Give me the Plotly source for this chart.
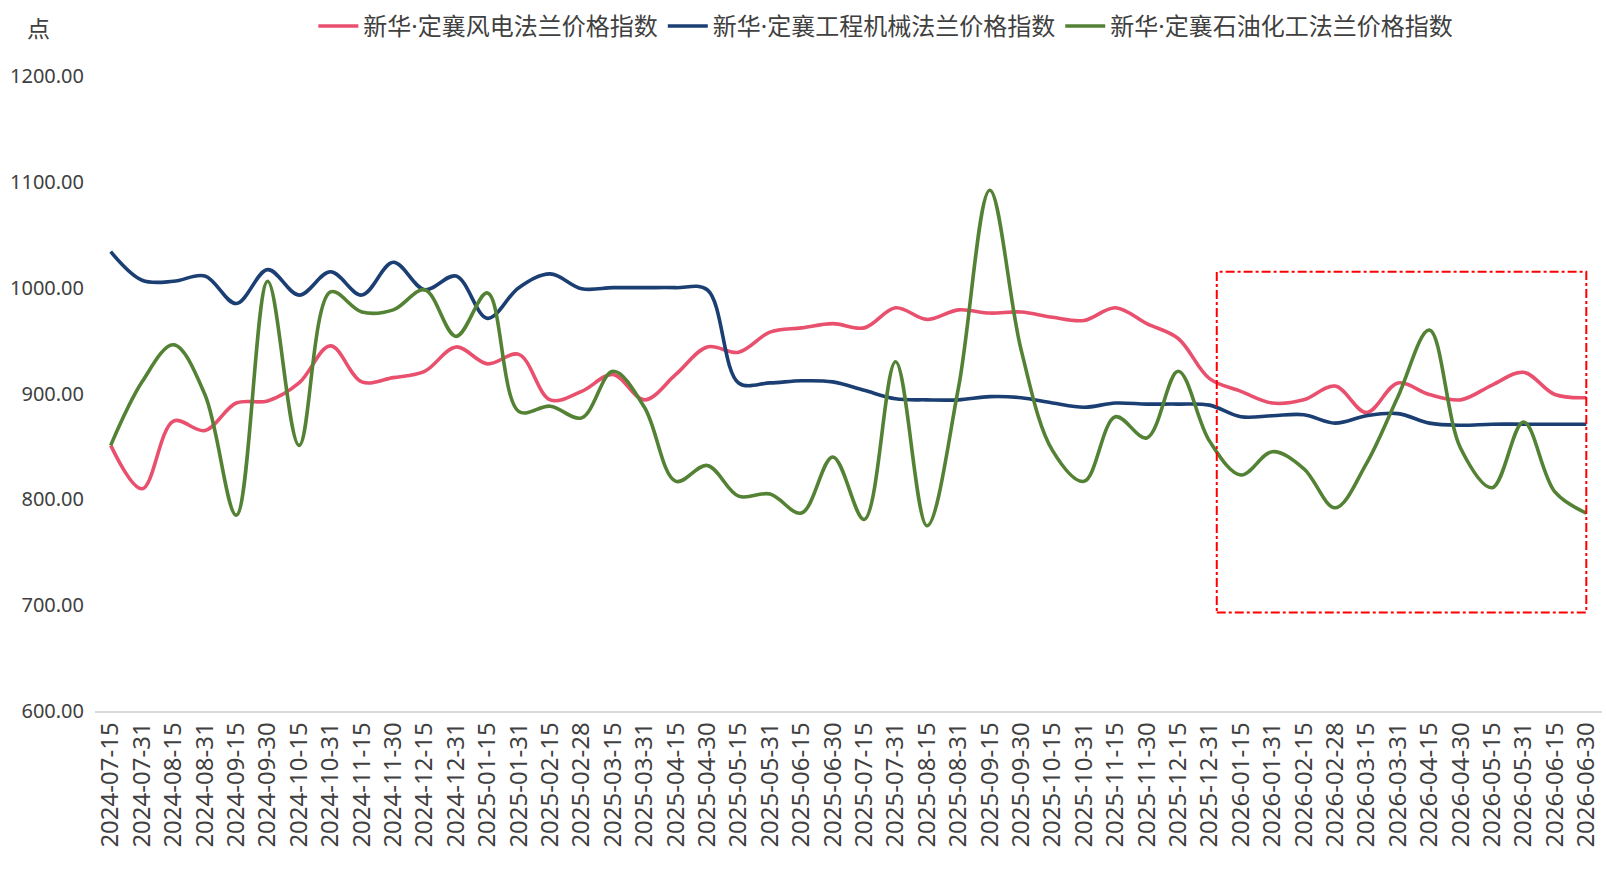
import plotly.graph_objects as go

dates = [
    "2024-07-15", "2024-07-31", "2024-08-15", "2024-08-31", "2024-09-15", "2024-09-30",
    "2024-10-15", "2024-10-31", "2024-11-15", "2024-11-30", "2024-12-15", "2024-12-31",
    "2025-01-15", "2025-01-31", "2025-02-15", "2025-02-28", "2025-03-15", "2025-03-31",
    "2025-04-15", "2025-04-30", "2025-05-15", "2025-05-31", "2025-06-15", "2025-06-30",
    "2025-07-15", "2025-07-31", "2025-08-15", "2025-08-31", "2025-09-15", "2025-09-30",
    "2025-10-15", "2025-10-31", "2025-11-15", "2025-11-30", "2025-12-15", "2025-12-31",
    "2026-01-15", "2026-01-31", "2026-02-15", "2026-02-28", "2026-03-15", "2026-03-31",
    "2026-04-15", "2026-04-30", "2026-05-15", "2026-05-31", "2026-06-15", "2026-06-30",
]

wind_power = [851, 810, 874, 865, 891, 893, 910, 945, 911, 915, 921, 944,
              928, 937, 894, 902, 918, 894, 918, 944, 939, 958, 962, 966,
              962, 981, 970, 979, 976, 977, 972, 969, 981, 966, 952, 914,
              902, 891, 894, 907, 882, 910, 899, 894, 908, 920, 899, 896]

machinery = [1034, 1007, 1006, 1011, 985, 1017, 993, 1015, 993, 1024, 998, 1011,
             971, 1000, 1013, 999, 1000, 1000, 1000, 998, 910, 910, 912, 911,
             903, 895, 894, 894, 897, 896, 891, 887, 891, 890, 890, 889,
             878, 879, 880, 872, 879, 881, 872, 870, 871, 871, 871, 871]

petrochem = [851, 911, 946, 899, 785, 1006, 851, 996, 977, 979, 998, 954,
             995, 883, 888, 877, 921, 887, 817, 832, 803, 805, 787, 840,
             781, 930, 775, 905, 1092, 941, 846, 817, 878, 858, 921, 855,
             823, 845, 829, 792, 834, 897, 960, 848, 811, 873, 807, 787]

series_names = ["新华·定襄风电法兰价格指数", "新华·定襄工程机械法兰价格指数", "新华·定襄石油化工法兰价格指数"]
series_values = [wind_power, machinery, petrochem]
series_colors = ["#E8506E", "#1B3F73", "#548235"]

y_ticks = [600, 700, 800, 900, 1000, 1100, 1200]

# highlighted region (category index / value units)
box_x = [35.23, 47.0]
box_y = [693, 1015]

fig = go.Figure()
for name, vals, col in zip(series_names, series_values, series_colors):
    fig.add_trace(go.Scatter(
        x=dates, y=vals, name=name, mode="lines",
        line=dict(color=col, width=3.6, shape="spline", smoothing=1.0),
    ))

fig.add_shape(type="rect", xref="x", yref="y",
              x0=box_x[0], x1=box_x[1], y0=box_y[0], y1=box_y[1],
              line=dict(color="#FF0000", width=2, dash="dashdot"),
              fillcolor="rgba(0,0,0,0)", layer="above")

fig.add_annotation(text="点", xref="paper", yref="paper", x=-0.0372, y=1.077,
                   xanchor="center", yanchor="middle", showarrow=False,
                   font=dict(size=23, color="#404040", family="Noto Sans CJK SC"))

fig.update_layout(
    width=1606, height=896,
    margin=dict(l=95, r=4, t=76, b=185),
    paper_bgcolor="white", plot_bgcolor="white",
    font=dict(family="Noto Sans, Noto Sans CJK SC", color="#404040"),
    showlegend=True,
    legend=dict(orientation="h", x=0.1449, xanchor="left", y=1.078, yanchor="middle",
                font=dict(size=24, family="Noto Sans, Noto Sans CJK SC", color="#404040"),
                bgcolor="rgba(0,0,0,0)", itemwidth=40, tracegroupgap=0),
)

fig.update_xaxes(
    type="category", range=[-0.5, 47.5], tickangle=-90,
    showgrid=False, showline=True, linecolor="#D9D9D9", linewidth=1.5,
    ticks="", tickfont=dict(size=24, family="Noto Sans", color="#404040"),
    zeroline=False,
)
fig.update_yaxes(
    range=[600, 1200], tickvals=y_ticks, ticktext=[f"{v:.2f}" for v in y_ticks],
    showgrid=False, showline=False, zeroline=False, ticks="",
    tickfont=dict(size=20, family="Noto Sans", color="#404040"),
    ticklabelstandoff=10,
)

fig.write_html("out.html")
